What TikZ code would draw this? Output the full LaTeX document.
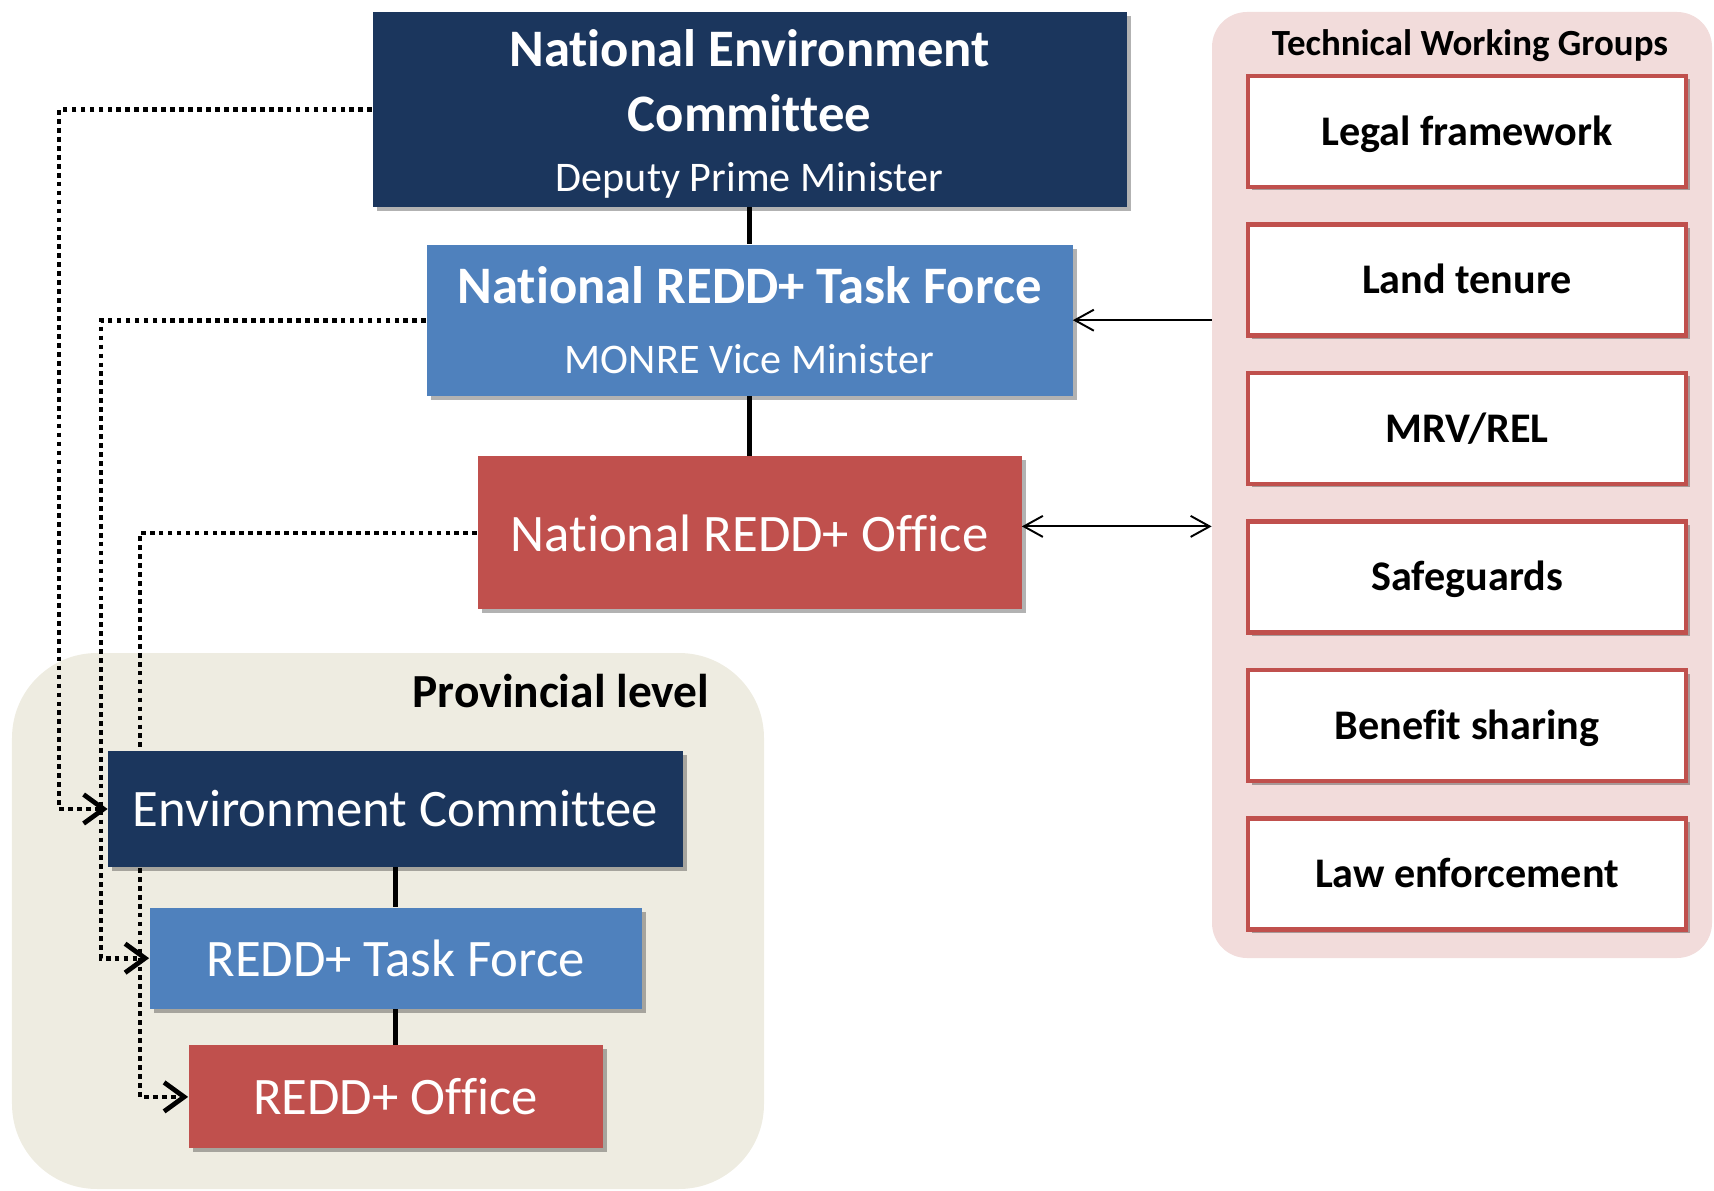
\documentclass[tikz,border=0pt]{standalone}
\usepackage{fontspec}
\setmainfont{Carlito}[Ligatures=NoCommon]
\usetikzlibrary{positioning,arrows.meta,shadows}
\definecolor{necblue}{RGB}{27,54,93}
\definecolor{taskblue}{RGB}{79,129,189}
\definecolor{officered}{RGB}{192,80,77}
\definecolor{provgrey}{RGB}{238,236,225}
\definecolor{twgpink}{RGB}{242,220,219}
\pgfdeclarelayer{background}
\pgfdeclarelayer{links}
\pgfsetlayers{background,links,main}

\begin{document}
\begin{tikzpicture}[
  box/.style={rectangle, inner sep=0pt, text=white, align=center,
    drop shadow={shadow xshift=0.08cm, shadow yshift=-0.08cm, fill=black, opacity=0.3}},
  necbox/.style={box, fill=necblue, minimum width=15.08cm, minimum height=3.9cm, font=\fontsize{30}{37}\selectfont\bfseries},
  taskbox/.style={box, fill=taskblue, font=\fontsize{30}{40}\selectfont},
  officebox/.style={box, fill=officered, font=\fontsize{30}{36}\selectfont},
  provbox/.style={box, fill=necblue, font=\fontsize{30}{36}\selectfont},
  twgbox/.style={rectangle, draw=officered, line width=2.6pt, fill=white, minimum width=8.76cm, minimum height=2.22cm,
    text height=18pt, text depth=2.6pt, font=\fontsize{24}{29}\selectfont\bfseries,
    drop shadow={shadow xshift=0.07cm, shadow yshift=-0.07cm, fill=black, opacity=0.3}},
  panel/.style={rectangle, inner sep=0pt},
  solidlink/.style={line width=3.1pt},
  dotlink/.style={line width=2.7pt, dash pattern=on 2.7pt off 2.4pt, -{Straight Barb[length=0.4cm, width=0.58cm]}},
  twgtip/.tip={Straight Barb[length=0.38cm, width=0.42cm]},
  twglink/.style={line width=1.1pt}
]
\useasboundingbox (0,0) rectangle (34.28,-23.82);

\node[necbox] (nec) at (14.99,-2.19) {\rule{0pt}{26pt}National Environment\\Committee\\[-3pt]{\mdseries\fontsize{24}{29}\selectfont Deputy Prime Minister}};
\node[taskbox, minimum width=12.92cm, minimum height=3.02cm, below=0.74cm of nec] (nrtf) {\textbf{National REDD+ Task Force}\\{\fontsize{24}{29}\selectfont MONRE Vice Minister}};
\node[officebox, minimum width=10.88cm, minimum height=3.06cm, below=1.2cm of nrtf] (nro) {National REDD+ Office};

\node[provbox, minimum width=11.5cm, minimum height=2.32cm] (envc) at (7.91,-16.18) {Environment Committee};
\node[taskbox, minimum width=9.84cm, minimum height=2.02cm, below=0.8cm of envc] (tf) {REDD+ Task Force};
\node[officebox, minimum width=8.28cm, minimum height=2.06cm, below=0.72cm of tf] (office) {REDD+ Office};

\begin{pgfonlayer}{background}
  \node[panel, fill=provgrey, rounded corners=1.7cm, minimum width=15.04cm, minimum height=10.72cm] (prov) at (7.76,-18.42) {};
  \node[panel, fill=twgpink, rounded corners=0.7cm, minimum width=10.0cm, minimum height=18.92cm] (twg) at (29.24,-9.7) {};
\end{pgfonlayer}
\node[anchor=east, font=\fontsize{27}{32}\selectfont\bfseries] (provtitle) at (14.31,-13.82) {Provincial level};
\node[font=\fontsize{21}{25}\selectfont\bfseries] (twgtitle) at (29.4,-0.92) {Technical Working Groups};

\foreach \name/\txt [count=\i] in {legal/{Legal framework}, tenure/{Land tenure}, mrv/{MRV/REL}, safe/{Safeguards}, benefit/{Benefit sharing}, law/{Law enforcement}}
  \node[twgbox] (\name) at (29.34,{-2.63-2.97*(\i-1)}) {\txt};

\coordinate (lane1) at (1.18,0);
\coordinate (lane2) at (2.02,0);
\coordinate (lane3) at (2.80,0);

\begin{pgfonlayer}{links}
  \draw[solidlink] (nec) -- (nrtf);
  \draw[solidlink] (nrtf) -- (nro);
  \draw[solidlink] (envc) -- (tf);
  \draw[solidlink] (tf) -- (office);
  \draw[dotlink] (nec.west) -- (nec.west -| lane1) |- (envc.west);
  \draw[dotlink] (nrtf.west) -- (nrtf.west -| lane2) |- (tf.west);
  \draw[dotlink] (nro.west) -- (nro.west -| lane3) |- (office.west);
\end{pgfonlayer}
\draw[twglink, -twgtip] (nrtf.east -| twg.west) -- (nrtf.east);
\draw[twglink, twgtip-twgtip] ([yshift=0.13cm]nro.east) -- ([yshift=0.13cm]nro.east -| twg.west);
\end{tikzpicture}
\end{document}
